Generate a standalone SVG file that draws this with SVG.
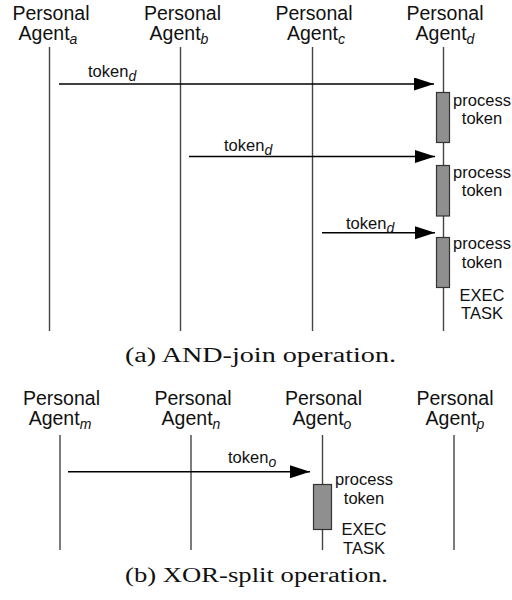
<svg xmlns="http://www.w3.org/2000/svg" width="512" height="600" viewBox="0 0 512 600">
<style>
.lbl{font-family:"Liberation Sans",Arial,sans-serif;font-size:19.5px;fill:#111;text-anchor:middle}
.sub{font-style:italic;font-size:14px}
.msg{font-family:"Liberation Sans",Arial,sans-serif;font-size:16.5px;fill:#111}
.note{font-family:"Liberation Sans",Arial,sans-serif;font-size:16.5px;fill:#111;text-anchor:middle}
.cap{font-family:"Liberation Serif","Times New Roman",serif;font-size:20px;fill:#111}
.life{stroke:#444;stroke-width:1.4;fill:none}
.act{fill:#8f8f8f;stroke:#333;stroke-width:1.2}
.arr{stroke:#000;stroke-width:1.5;fill:none;marker-end:url(#ah)}
</style>
<defs>
<marker id="ah" markerUnits="userSpaceOnUse" markerWidth="21" markerHeight="14" refX="20" refY="6.5" orient="auto">
<path d="M0,0 L20,6.5 L0,13 z" fill="#000"/>
</marker>
</defs>
<rect width="512" height="600" fill="#fff"/>

<!-- (a) AND-join -->
<g id="agent_a">
<text class="lbl" x="51" y="20">Personal</text>
<text class="lbl" x="48" y="40">Agent<tspan class="sub" dy="4">a</tspan></text>
<line class="life" x1="49.5" y1="47" x2="49.5" y2="331"/>
</g>
<g id="agent_b">
<text class="lbl" x="182.5" y="20">Personal</text>
<text class="lbl" x="179" y="40">Agent<tspan class="sub" dy="4">b</tspan></text>
<line class="life" x1="180.5" y1="47" x2="180.5" y2="331"/>
</g>
<g id="agent_c">
<text class="lbl" x="314" y="20">Personal</text>
<text class="lbl" x="316" y="40">Agent<tspan class="sub" dy="4">c</tspan></text>
<line class="life" x1="312.5" y1="47" x2="312.5" y2="331"/>
</g>
<g id="agent_d">
<text class="lbl" x="445" y="20">Personal</text>
<text class="lbl" x="445" y="40">Agent<tspan class="sub" dy="4">d</tspan></text>
<line class="life" x1="443.5" y1="47" x2="443.5" y2="331"/>
<rect class="act" x="436.5" y="92.5" width="13" height="50"/>
<text class="note" x="482" y="106">process</text>
<text class="note" x="482" y="123.5">token</text>
<rect class="act" x="436.5" y="165.5" width="13" height="50.5"/>
<text class="note" x="482" y="177.5">process</text>
<text class="note" x="482" y="195.5">token</text>
<rect class="act" x="436.5" y="237.5" width="13" height="50"/>
<text class="note" x="482" y="249">process</text>
<text class="note" x="482" y="267.5">token</text>
<text class="note" x="482" y="300.5">EXEC</text>
<text class="note" x="482" y="319">TASK</text>
</g>
<g id="connectors_a">
<line class="arr" x1="59" y1="84" x2="434" y2="84"/>
<text class="msg" x="88" y="77">token<tspan class="sub" dy="4">d</tspan></text>
<line class="arr" x1="189" y1="156.5" x2="435" y2="156.5"/>
<text class="msg" x="224" y="150.5">token<tspan class="sub" dy="4">d</tspan></text>
<line class="arr" x1="322" y1="232.7" x2="435" y2="232.7"/>
<text class="msg" x="346" y="229">token<tspan class="sub" dy="4">d</tspan></text>
</g>
<text class="cap" x="125" y="362" textLength="271" lengthAdjust="spacingAndGlyphs">(a) AND-join operation.</text>

<!-- (b) XOR-split -->
<g id="agent_m">
<text class="lbl" x="61.5" y="405">Personal</text>
<text class="lbl" x="60" y="425">Agent<tspan class="sub" dy="4">m</tspan></text>
<line class="life" x1="60" y1="435" x2="60" y2="550"/>
</g>
<g id="agent_n">
<text class="lbl" x="193" y="405">Personal</text>
<text class="lbl" x="191" y="425">Agent<tspan class="sub" dy="4">n</tspan></text>
<line class="life" x1="191" y1="435" x2="191" y2="550"/>
</g>
<g id="agent_o">
<text class="lbl" x="323.5" y="405">Personal</text>
<text class="lbl" x="322" y="425">Agent<tspan class="sub" dy="4">o</tspan></text>
<line class="life" x1="322.5" y1="435" x2="322.5" y2="550"/>
<rect class="act" x="313.5" y="484.5" width="18" height="45"/>
<text class="note" x="364" y="485">process</text>
<text class="note" x="364" y="504">token</text>
<text class="note" x="364" y="535">EXEC</text>
<text class="note" x="364" y="553.5">TASK</text>
</g>
<g id="agent_p">
<text class="lbl" x="455" y="405">Personal</text>
<text class="lbl" x="455" y="425">Agent<tspan class="sub" dy="4">p</tspan></text>
<line class="life" x1="454" y1="435" x2="454" y2="550"/>
</g>
<g id="connectors_b">
<line class="arr" x1="68" y1="471.7" x2="310" y2="471.7"/>
<text class="msg" x="228" y="462.5">token<tspan class="sub" dy="4">o</tspan></text>
</g>
<text class="cap" x="125" y="582" textLength="263" lengthAdjust="spacingAndGlyphs">(b) XOR-split operation.</text>
</svg>
